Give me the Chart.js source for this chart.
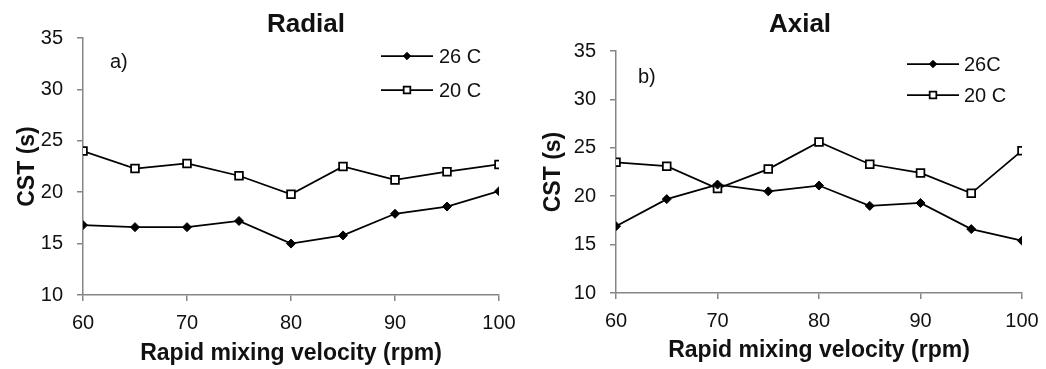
<!DOCTYPE html>
<html>
<head>
<meta charset="utf-8">
<script src="https://cdn.jsdelivr.net/npm/chart.js@4/dist/chart.umd.min.js"></script>
<style>
    html, body { margin: 0; padding: 0; background: #fff; }
    #wrap { position: relative; width: 1046px; height: 369px; }
    .box { position: absolute; top: 0; height: 369px; }
    #radialBox { left: 0; width: 520px; }
    #axialBox { left: 520px; width: 526px; }
</style>
</head>
<body>
<div id="wrap">
    <div class="box" id="radialBox"><canvas id="radialChart"></canvas></div>
    <div class="box" id="axialBox"><canvas id="axialChart"></canvas></div>
</div>
<script>
// Data
const rpm = [60, 65, 70, 75, 80, 85, 90, 95, 100];
const radial26 = [16.8, 16.6, 16.6, 17.2, 15.0, 15.8, 17.9, 18.6, 20.1];
const radial20 = [24.0, 22.3, 22.8, 21.6, 19.8, 22.5, 21.2, 22.0, 22.7];
const axial26 = [16.9, 19.7, 21.2, 20.5, 21.1, 19.0, 19.3, 16.6, 15.4];
const axial20 = [23.5, 23.1, 20.8, 22.8, 25.6, 23.3, 22.4, 20.3, 24.7];
const yTicks = [10, 15, 20, 25, 30, 35];
const xTicks = [60, 70, 80, 90, 100];

const FONT = '"Liberation Sans", Arial, sans-serif';
const AXIS_GREY = '#868686';
const TEXT = '#111';

function toPoints(values) {
    return rpm.map((x, i) => ({ x: x, y: values[i] }));
}

// Title, legend (line + marker + text) and the panel tag
const panelDecor = {
    id: 'panelDecor',
    afterDraw(chart, args, opts) {
        const ctx = chart.ctx;
        ctx.save();

        ctx.fillStyle = TEXT;
        ctx.font = 'bold 26px ' + FONT;
        ctx.textAlign = 'center';
        ctx.textBaseline = 'alphabetic';
        ctx.fillText(opts.title, opts.titleX, 32);

        chart.data.datasets.forEach((ds, i) => {
            const y = opts.rows[i];
            ctx.strokeStyle = '#000';
            ctx.lineWidth = ds.borderWidth;
            ctx.beginPath();
            ctx.moveTo(opts.x0, y);
            ctx.lineTo(opts.x1, y);
            ctx.stroke();
            ctx.fillStyle = ds.pointBackgroundColor;
            ctx.strokeStyle = ds.pointBorderColor;
            ctx.lineWidth = ds.pointBorderWidth;
            Chart.helpers.drawPoint(ctx, {
                pointStyle: ds.pointStyle,
                radius: ds.pointRadius - 0.8,
                borderWidth: ds.pointBorderWidth
            }, (opts.x0 + opts.x1) / 2, y);
            ctx.fillStyle = TEXT;
            ctx.font = '20px ' + FONT;
            ctx.textBaseline = 'middle';
            ctx.textAlign = 'left';
            ctx.fillText(ds.label, opts.tx, y + 1);
        });

        ctx.fillStyle = TEXT;
        ctx.font = '20px ' + FONT;
        ctx.textAlign = 'left';
        ctx.textBaseline = 'middle';
        ctx.fillText(opts.tag, opts.tagX, opts.tagY);
        ctx.restore();
    }
};

function makeChart(id, cfg) {
    const ctx = document.getElementById(id).getContext('2d');
    return new Chart(ctx, {
        type: 'line',
        data: {
            datasets: [
                {
                    label: cfg.label26,
                    data: toPoints(cfg.s26),
                    borderColor: '#000',
                    borderWidth: 1.75,
                    pointStyle: 'rectRot',
                    pointRadius: 4.5,
                    pointBackgroundColor: '#000',
                    pointBorderColor: '#000',
                    pointBorderWidth: 1,
                    tension: 0
                },
                {
                    label: '20 C',
                    data: toPoints(cfg.s20),
                    borderColor: '#000',
                    borderWidth: 1.75,
                    pointStyle: 'rect',
                    pointRadius: 5.5,
                    pointBackgroundColor: '#fff',
                    pointBorderColor: '#000',
                    pointBorderWidth: 1.75,
                    tension: 0
                }
            ]
        },
        options: {
            responsive: true,
            maintainAspectRatio: false,
            animation: false,
            layout: { padding: { left: 0, right: cfg.padRight, top: cfg.padTop, bottom: 0 } },
            scales: {
                x: {
                    type: 'linear',
                    min: 60,
                    max: 100,
                    afterBuildTicks: s => { s.ticks = xTicks.map(v => ({ value: v })); },
                    afterFit: s => {
                        s.height = cfg.xHeight;
                        s.paddingLeft = 0;
                        s.paddingRight = 0;
                    },
                    border: { color: AXIS_GREY, width: 1.5 },
                    grid: { drawOnChartArea: false, color: AXIS_GREY, tickLength: 6, lineWidth: 1.5 },
                    ticks: { color: TEXT, font: { family: FONT, size: 20 }, padding: 10, maxRotation: 0 },
                    title: {
                        display: true,
                        text: 'Rapid mixing velocity (rpm)',
                        color: TEXT,
                        font: { family: FONT, size: 23, weight: 'bold' },
                        padding: { top: 2, bottom: cfg.xTitleBottom }
                    }
                },
                y: {
                    min: 10,
                    max: 35,
                    afterBuildTicks: s => { s.ticks = yTicks.map(v => ({ value: v })); },
                    afterFit: s => { s.width = cfg.yWidth; },
                    border: { color: AXIS_GREY, width: 1.5 },
                    grid: { drawOnChartArea: false, color: AXIS_GREY, tickLength: 6, lineWidth: 1.5 },
                    ticks: { color: TEXT, font: { family: FONT, size: 20 }, padding: 14 },
                    title: {
                        display: true,
                        text: 'CST (s)',
                        color: TEXT,
                        font: { family: FONT, size: 23, weight: 'bold' },
                        padding: { top: cfg.yTitleLeft, bottom: 0 }
                    }
                }
            },
            plugins: {
                legend: { display: false },
                tooltip: { enabled: false },
                title: { display: false },
                panelDecor: cfg.decor
            }
        },
        plugins: [panelDecor]
    });
}

makeChart('radialChart', {
    label26: '26 C',
    s26: radial26,
    s20: radial20,
    padRight: 21,
    padTop: 38,
    xHeight: 74,
    yWidth: 83,
    xTitleBottom: 2,
    yTitleLeft: 14,
    decor: { title: 'Radial', titleX: 306, x0: 381, x1: 433, rows: [56, 90], tx: 439, tag: 'a)', tagX: 110, tagY: 62 }
});

makeChart('axialChart', {
    label26: '26C',
    s26: axial26,
    s20: axial20,
    padRight: 24,
    padTop: 51,
    xHeight: 76,
    yWidth: 96,
    xTitleBottom: 5,
    yTitleLeft: 20,
    decor: { title: 'Axial', titleX: 280, x0: 387, x1: 439, rows: [64, 95], tx: 444, tag: 'b)', tagX: 118, tagY: 77 }
});
</script>
</body>
</html>
